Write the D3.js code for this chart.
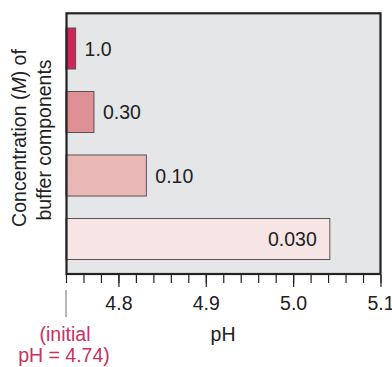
<!DOCTYPE html>
<html><head><meta charset="utf-8">
<script src="https://cdn.jsdelivr.net/npm/d3@7"></script>
<style>
html,body{margin:0;padding:0;background:#fff;}
text{font-family:"Liberation Sans",Arial,sans-serif;}
</style></head>
<body>
<svg id="chart" width="392" height="367"></svg>
<script>
const concentrations = ["1.0", "0.30", "0.10", "0.030"];
const phValues = [4.751, 4.772, 4.832, 5.042];
const barColors = ["#d0255a", "#df9094", "#ebb8b8", "#f7e4e4"];
const majorTicks = [4.8, 4.9, 5.0, 5.1];
const initialPH = 4.74;

(function () {
const svg = d3.select("#chart");
const pL = 66.5, pR = 380.5, pT = 13.3, pB = 274;
const fs = 19.5;

const x = d3.scaleLinear().domain([4.74, 5.1]).range([66, 380.5]);
const y = d3.scaleBand().domain(concentrations).range([16.75, 270.75]).paddingInner(0.354).paddingOuter(0.177);

svg.append("rect").attr("x", pL).attr("y", pT).attr("width", pR - pL).attr("height", pB - pT)
  .attr("fill", "#e5e6e8");

svg.selectAll("rect.bar").data(concentrations).join("rect").attr("class", "bar")
  .attr("x", x(initialPH))
  .attr("y", d => y(d))
  .attr("width", (d, i) => x(phValues[i]) - x(initialPH))
  .attr("height", y.bandwidth())
  .attr("fill", (d, i) => barColors[i])
  .attr("stroke", "#555")
  .attr("stroke-width", 1);

svg.selectAll("text.blab").data(concentrations).join("text").attr("class", "blab")
  .attr("x", (d, i) => i === 3 ? x(phValues[i]) - 13 : x(phValues[i]) + 9)
  .attr("y", d => y(d) + y.bandwidth() / 2 + 7)
  .attr("text-anchor", (d, i) => i === 3 ? "end" : "start")
  .attr("font-size", fs).attr("fill", "#222")
  .text(d => d);

svg.append("rect").attr("x", pL).attr("y", pT).attr("width", pR - pL).attr("height", pB - pT)
  .attr("fill", "none").attr("stroke", "#222").attr("stroke-width", 2.2);

const minor = d3.range(0, 19).map(i => +(4.74 + i * 0.02).toFixed(2));
const axisMinor = d3.axisBottom(x).tickValues(minor).tickSize(8).tickFormat("");
const gMinor = svg.append("g").attr("transform", `translate(0,${pB + 1})`).call(axisMinor);
gMinor.select(".domain").remove();
gMinor.selectAll("line").attr("stroke", "#222").attr("stroke-width", 1.2);

const axisMajor = d3.axisBottom(x).tickValues(majorTicks).tickSize(12).tickFormat(d3.format(".1f")).tickPadding(9);
const gMajor = svg.append("g").attr("transform", `translate(0,${pB + 1})`).call(axisMajor);
gMajor.select(".domain").remove();
gMajor.selectAll("line").attr("stroke", "#222").attr("stroke-width", 1.2);
gMajor.selectAll("text").attr("font-size", fs).attr("fill", "#222")
  .attr("font-family", "Liberation Sans, Arial, sans-serif");

svg.append("line").attr("x1", x(initialPH)).attr("x2", x(initialPH)).attr("y1", 290).attr("y2", 317)
  .attr("stroke", "#888").attr("stroke-width", 1.2);

svg.append("text").attr("x", 223).attr("y", 341).attr("text-anchor", "middle")
  .attr("font-size", fs).attr("fill", "#222").text("pH");

svg.append("text").attr("x", 65).attr("y", 341).attr("text-anchor", "middle")
  .attr("font-size", fs).attr("fill", "#c9305e").text("(initial");
svg.append("text").attr("x", 64).attr("y", 362).attr("text-anchor", "middle")
  .attr("font-size", fs).attr("fill", "#c9305e").text("pH = 4.74)");

const yl1 = svg.append("text").attr("transform", "translate(26,138) rotate(-90)")
  .attr("text-anchor", "middle").attr("font-size", fs).attr("fill", "#222");
yl1.append("tspan").text("Concentration (");
yl1.append("tspan").attr("font-style", "italic").text("M");
yl1.append("tspan").text(") of");
svg.append("text").attr("transform", "translate(51,140) rotate(-90)")
  .attr("text-anchor", "middle").attr("font-size", fs).attr("fill", "#222").text("buffer components");
})();
</script>
</body></html>
